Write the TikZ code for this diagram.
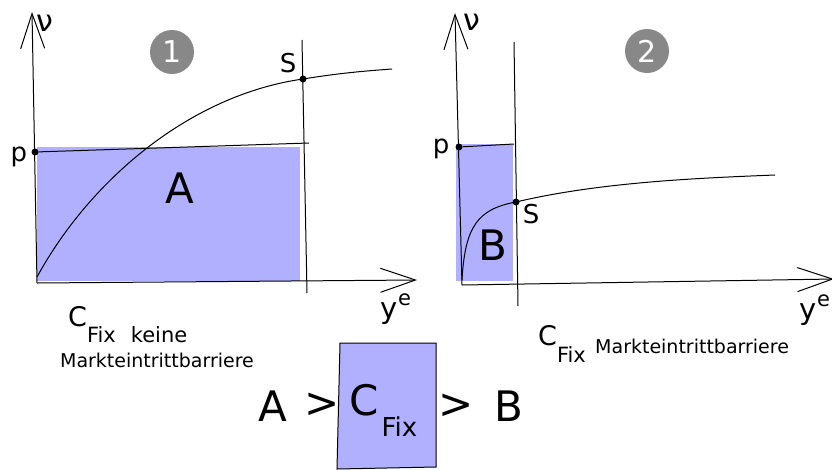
\documentclass[tikz,border=0pt]{standalone}
\usepackage{fontspec}
\setmainfont{DejaVu Sans}
\usetikzlibrary{arrows.meta}

\definecolor{areafill}{RGB}{176,176,255}
\definecolor{badgegray}{RGB}{136,136,136}

\begin{document}
\begin{tikzpicture}[
  x=1pt,
  y=-1pt,
  axis/.style={
    line width=1pt,
    -{Straight Barb[length=35pt,width=24pt,line width=1pt]}
  },
  curve/.style={
    line width=1pt
  },
  area/.style={
    fill=areafill
  },
  dot/.style={
    circle,
    fill=black,
    inner sep=0pt,
    minimum size=7pt
  },
  badge/.style={
    circle,
    fill=badgegray,
    text=white,
    inner sep=0pt,
    minimum size=44pt,
    font=\fontsize{30}{30}\selectfont
  },
  lbl/.style={
    inner sep=0pt,
    font=\fontsize{26}{26}\selectfont
  },
  big/.style={
    inner sep=0pt,
    font=\fontsize{42}{42}\selectfont
  },
  small/.style={
    inner sep=0pt,
    font=\fontsize{19}{19}\selectfont
  }
]
\useasboundingbox (0,0) rectangle (832,469);

% panel 1
\coordinate (o1) at (37,283);
\coordinate (top1) at (32,12);
\coordinate (right1) at (417,280);
\fill[area] (37,147) rectangle (300,281);
\draw[axis] (o1) -- (top1);
\draw[axis] (o1) -- (right1);
\node[dot] (p1) at (35,152) {};
\coordinate (pend1) at (309,143);
\draw[curve] (p1) -- (pend1);
\coordinate (vtop1) at (302,40);
\coordinate (vbot1) at (307,293);
\draw[curve] (vtop1) -- (vbot1);
\node[dot] (s1) at (303,79) {};
\coordinate (c1start) at (37,277);
\coordinate (c1end) at (392,69);
\draw[curve] (c1start) .. controls (90,180) and (190,95) .. (s1.center)
  .. controls (340,73) and (365,71) .. (c1end);
\node[lbl,font=\fontsize{30}{30}\selectfont] (nu1) at (45,23) {ν};
\node[lbl] (plabel1) at (19,157) {p};
\node[lbl] (slabel1) at (288,63) {S};
\node[big] (alabel) at (180,188) {A};
\node[badge] (badge1) at (172,52) {1};
\node[lbl,anchor=base,font=\fontsize{29}{29}\selectfont] (ye1) at (396,318)
  {y\raisebox{13pt}{\fontsize{21}{21}\selectfont e}};
\node[lbl,anchor=base west,font=\fontsize{27}{27}\selectfont]
  (cfix1) at (68,326)
  {C\raisebox{-16pt}{\fontsize{21}{21}\selectfont Fix\hspace{15pt}keine}};
\node[small,anchor=base] (barrier1) at (157,367) {Markteintrittbarriere};

% panel 2
\coordinate (o2) at (462,285);
\coordinate (top2) at (455,13);
\coordinate (right2) at (834,279);
\fill[area] (456,144) rectangle (513,281);
\draw[axis] (o2) -- (top2);
\draw[axis] (o2) -- (right2);
\node[dot] (p2) at (459,147) {};
\coordinate (pend2) at (514,144);
\draw[curve] (p2) -- (pend2);
\coordinate (vtop2) at (514,42);
\coordinate (vbot2) at (518,306);
\draw[curve] (vtop2) -- (vbot2);
\node[dot] (s2) at (516,202) {};
\coordinate (c2start) at (462,280);
\coordinate (c2end) at (775,175);
\draw[curve] (c2start) .. controls (465,226) and (478,209) .. (s2.center)
  .. controls (600,182) and (700,178) .. (c2end);
\node[lbl,font=\fontsize{30}{30}\selectfont] (nu2) at (472,22) {ν};
\node[lbl] (plabel2) at (441,149) {p};
\node[lbl] (slabel2) at (531,214) {S};
\node[big] (blabel) at (493,245) {B};
\node[badge] (badge2) at (647,51) {2};
\node[lbl,anchor=base,font=\fontsize{29}{29}\selectfont] (ye2) at (815,319)
  {y\raisebox{13pt}{\fontsize{21}{21}\selectfont e}};
\node[lbl,anchor=base west,font=\fontsize{27}{27}\selectfont]
  (cfix2) at (538,345)
  {C\raisebox{-17pt}{\fontsize{21}{21}\selectfont Fix}};
\node[small,anchor=base west] (barrier2) at (595,353) {Markteintrittbarriere};

% comparison
\coordinate (box1) at (340,343);
\coordinate (box2) at (436,343);
\coordinate (box3) at (436,467);
\coordinate (box4) at (337,469);
\draw[area,line width=1pt] (box1) -- (box2) -- (box3) -- (box4) -- cycle;
\node[big] (cmpa) at (273,406) {A};
\node[big] (gt1) at (322,405) {>};
\node[big,anchor=base west] (cmpc) at (349,415)
  {C\hspace{3pt}\raisebox{-21pt}{\fontsize{26}{26}\selectfont Fix}};
\node[big] (gt2) at (456,406) {>};
\node[big] (cmpb) at (509,406) {B};
\end{tikzpicture}
\end{document}
